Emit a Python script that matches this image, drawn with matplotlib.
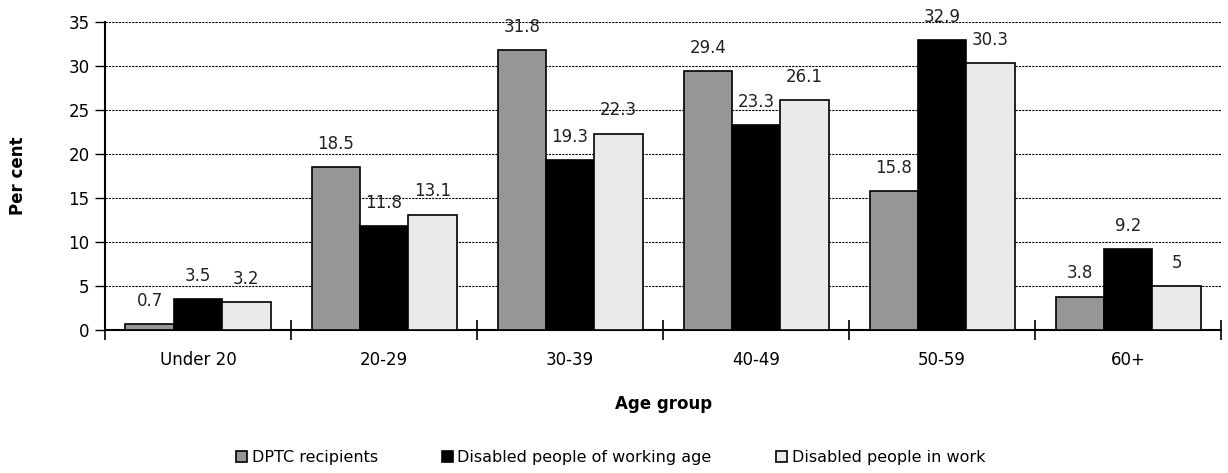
import numpy as np
import matplotlib.pyplot as plt

# age bands and the three percentage series
groups = ["Under 20", "20-29", "30-39", "40-49", "50-59", "60+"]
dptc = [0.7, 18.5, 31.8, 29.4, 15.8, 3.8]
disabled_working_age = [3.5, 11.8, 19.3, 23.3, 32.9, 9.2]
disabled_in_work = [3.2, 13.1, 22.3, 26.1, 30.3, 5]

series = [
    ("DPTC recipients", dptc, "#969696"),
    ("Disabled people of working age", disabled_working_age, "#000000"),
    ("Disabled people in work", disabled_in_work, "#eaeaea"),
]

plt.rcParams["font.family"] = "DejaVu Sans"
fig = plt.figure(figsize=(12.28, 4.73), dpi=100)
ax = fig.add_axes([0.0855, 0.302, 0.909, 0.652])

x = np.arange(len(groups))
width = 0.26
for i, (name, vals, col) in enumerate(series):
    pos = x + (i - 1) * width
    bars = ax.bar(pos, vals, width, color=col, edgecolor="black", linewidth=1.2,
                  label=name, zorder=3)
    for b, v in zip(bars, vals):
        ax.text(b.get_x() + b.get_width() / 2, v + 2.65, f"{v:g}",
                ha="center", va="center", fontsize=12, color="#222222")

ax.set_xlim(-0.5, len(groups) - 0.5)
ax.set_ylim(0, 35)
ax.set_yticks(range(0, 36, 5))
ax.set_xticks(x)
ax.set_xticklabels(groups, fontsize=12)
ax.set_xticks(np.arange(-0.5, len(groups)), minor=True)
ax.tick_params(axis="x", which="major", length=0, pad=15)
ax.tick_params(axis="x", which="minor", length=14, direction="inout", width=1.2)
ax.tick_params(axis="y", labelsize=12, length=7, width=1, direction="out", pad=4)

ax.yaxis.grid(True, color="black", linestyle=(0, (2, 1)), linewidth=0.8, zorder=0)
for s in ["top", "right"]:
    ax.spines[s].set_visible(False)
ax.spines["left"].set_linewidth(1.5)
ax.spines["bottom"].set_linewidth(1.5)

ax.set_xlabel("Age group", fontsize=12, fontweight="bold", labelpad=19)
ax.set_ylabel("Per cent", fontsize=12, fontweight="bold", labelpad=30)

fig.legend(loc="center", bbox_to_anchor=(0.497, 0.032), ncol=3, frameon=False,
           fontsize=11.5, handlelength=0.7, handleheight=0.7, handletextpad=0.3,
           columnspacing=4.0)

fig.savefig("out.png", dpi=100)
